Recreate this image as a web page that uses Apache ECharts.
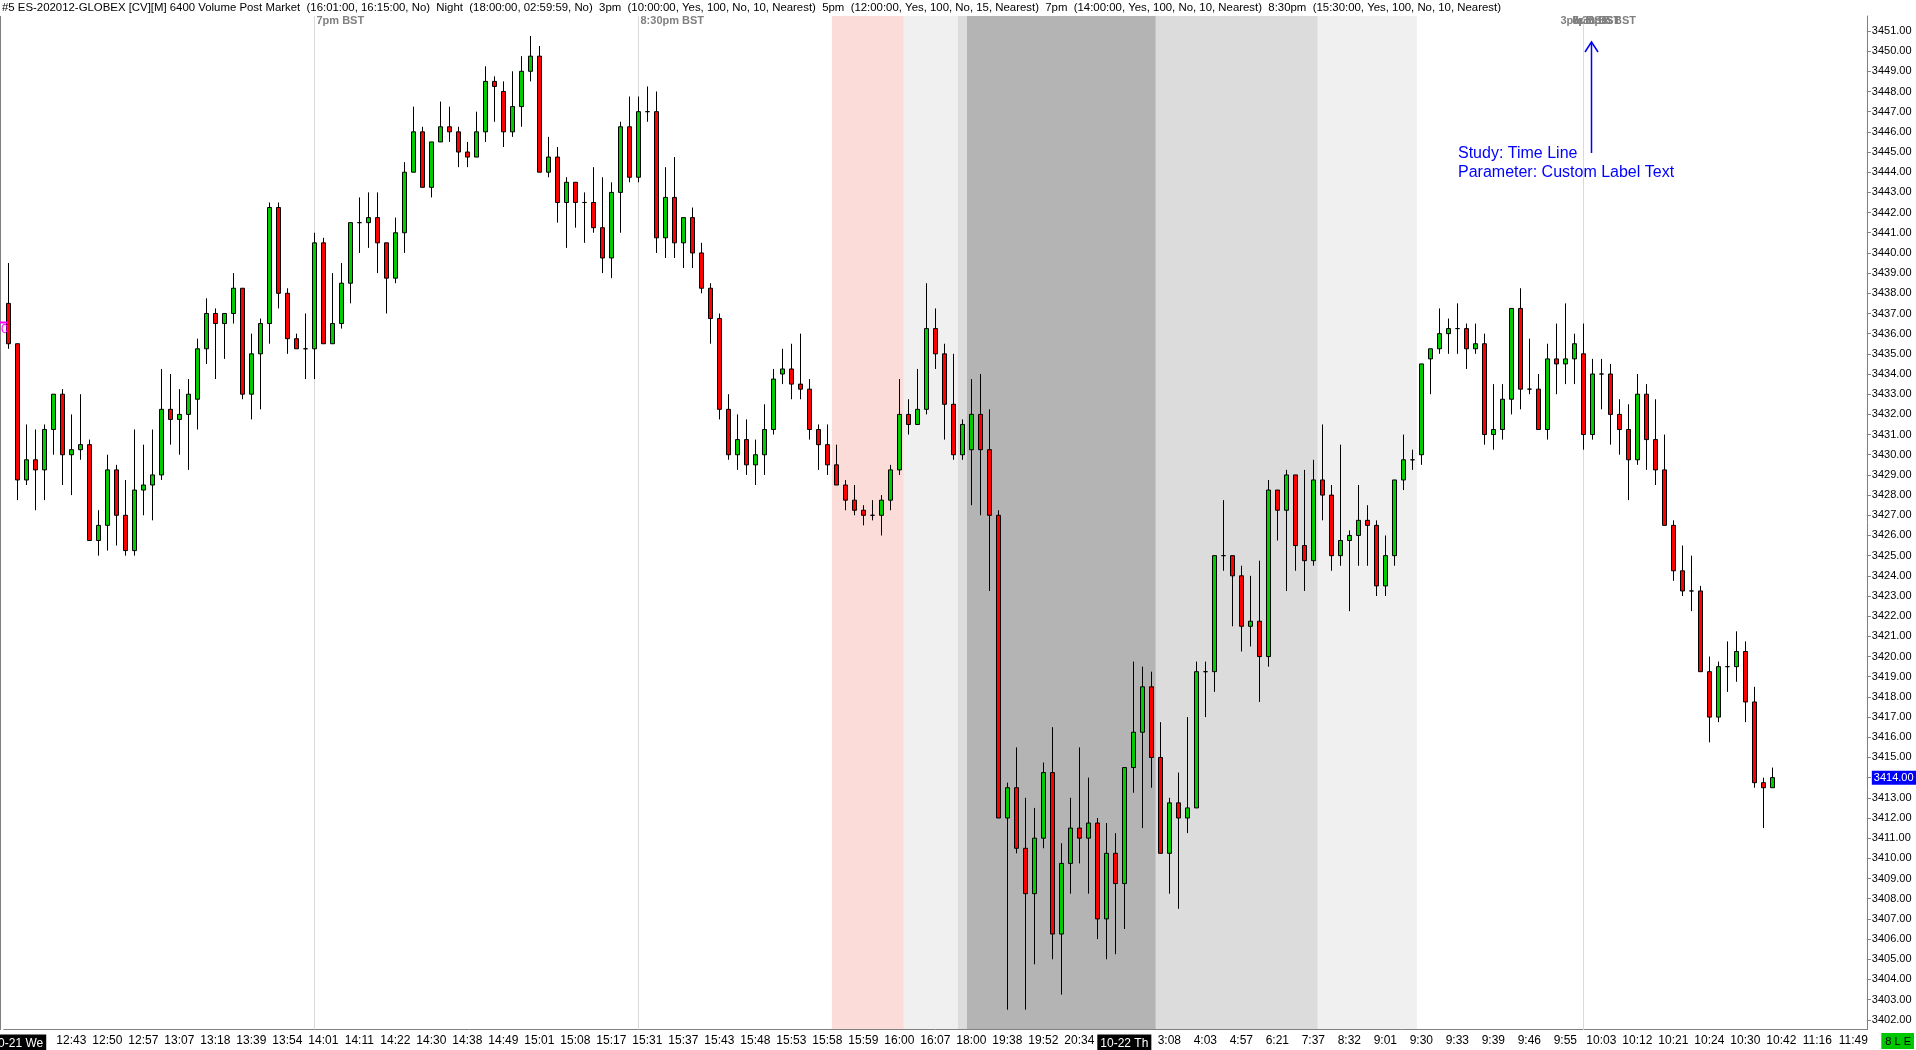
<!DOCTYPE html>
<html><head><meta charset="utf-8">
<script src="https://cdn.jsdelivr.net/npm/echarts@6/dist/echarts.min.js"></script>
<style>html,body{margin:0;padding:0;background:#fff;}#c{width:1916px;height:1050px;}</style>
</head><body><div id="c"></div>
<script>
// ---------- DATA ----------
const openP = [
3437.5,3435.5,3428.75,3429.75,3429.25,3431.25,3433,3430,3430.25,3430.5,
3425.75,3426.5,3429.25,3427,3425.25,3428.25,3428.5,3429,3432.25,3431.75,
3432,3432.75,3435.25,3437,3436.5,3437,3438.25,3433,3435,3436.5,
3442.25,3438,3435.75,3435.25,3435.25,3440.5,3435.5,3436.5,3438.5,3441.5,
3441.5,3441.75,3440.5,3438.75,3441,3444,3446,3443.25,3445.5,3446.25,
3446,3445,3444.75,3446,3448.5,3448,3446,3447.25,3449,3449.75,
3444,3444.75,3442.5,3443.5,3442.5,3442.5,3441.25,3439.75,3443,3446.25,
3443.75,3447,3447,3440.75,3442.75,3440.5,3441.75,3440,3438.25,3436.75,
3432.25,3430,3430.75,3429.5,3430,3431.25,3434,3434.25,3433.5,3433.25,
3431.25,3430.5,3429.5,3428.5,3427.75,3427.25,3427,3427,3427.75,3429.25,
3432,3431.5,3432.25,3436.25,3435,3432.5,3430,3430.25,3432,3430.25,
3427,3412,3413.5,3410.5,3408.25,3411,3414.25,3406.25,3409.75,3411.5,
3411,3411.75,3407,3410.25,3408.75,3414.5,3416.25,3418.5,3415,3410.25,
3412.75,3412,3412.5,3419.25,3419.25,3425,3425,3424,3421.5,3421.75,
3420,3428.25,3427.25,3429,3425.5,3424.75,3428.75,3428,3425,3425.75,
3426,3426.75,3426.5,3423.5,3425,3428.75,3429.75,3430,3434.75,3435.25,
3436,3436.25,3436.25,3435.25,3435.5,3431,3431.25,3432.75,3437.25,3433.25,
3433.25,3431.25,3434.75,3434.5,3434.75,3435,3431,3434,3434,3432,
3431.25,3429.75,3433,3430.75,3429.25,3426.5,3424.25,3423.25,3423.25,3419.25,
3417,3419.5,3419.5,3420.25,3417.75,3413.75,3413.5];
const highP = [
3439.5,3435.5,3431.5,3431.25,3431.5,3433,3433.25,3432,3433,3430.75,
3427.25,3430,3429.5,3428.75,3431.25,3430.5,3431.25,3434.25,3434,3433.25,
3433.75,3435.75,3437.75,3437.25,3437,3439,3438.25,3436,3436.75,3442.5,
3442.5,3438.25,3436,3437,3441,3440.75,3439,3439.5,3441.5,3442.75,
3443,3443,3440.5,3441.75,3444.5,3447.25,3446.25,3445.5,3447.5,3447.25,
3446.25,3445.5,3447,3449.25,3448.75,3448.5,3449,3449.75,3450.75,3450.25,
3445.75,3445.25,3443.75,3443.5,3443,3444.25,3443.75,3443.5,3446.5,3447.75,
3447.75,3448.25,3448,3444.25,3444.75,3441.75,3442.25,3440.5,3438.5,3437,
3433,3432,3431.75,3430.75,3432.5,3434.25,3435.25,3435.5,3436,3433.75,
3431.5,3431.5,3430.5,3428.75,3428.5,3427.5,3427.75,3428,3429.5,3433.75,
3432.75,3434.25,3438.5,3437.25,3435.5,3435,3431.75,3433.75,3434,3432.25,
3427.25,3413.75,3415.5,3413,3412.5,3414.75,3416.5,3410.75,3413,3415.5,
3414,3412,3411.75,3411.25,3414.5,3419.75,3419.5,3419.25,3416.75,3413,
3414.25,3417,3419.75,3419.75,3425,3427.75,3425,3424.5,3424,3424.75,
3428.75,3428.25,3429.25,3429,3429.25,3429.75,3431.5,3428.5,3430.5,3426.25,
3428.5,3427.5,3426.75,3426,3428.75,3431,3430.25,3434.5,3435.25,3437.25,
3436.75,3437.5,3436.5,3436.5,3436,3433.5,3433.5,3437.25,3438.25,3435.75,
3434,3435.5,3436.5,3437.5,3436,3436.5,3434.75,3434.75,3434.5,3432.75,
3432.5,3434,3433.5,3432.75,3431,3426.75,3425.5,3425,3423.5,3420,
3419.75,3420.75,3421.25,3420.75,3418.5,3414,3414.5];
const lowP = [
3435.25,3427.75,3428.5,3427.25,3427.75,3430,3428.5,3428,3429.75,3425.75,
3425,3425.25,3425.5,3425,3425,3427,3426.75,3428.75,3430.5,3430,
3429.25,3431.25,3434.5,3433.75,3434.75,3436.5,3432.75,3431.75,3432.25,3435.5,
3437.25,3435,3435.25,3433.75,3433.75,3435.5,3435.5,3436.25,3437.5,3440,
3440.25,3439,3437,3438.5,3440,3444,3443.25,3442.75,3445.5,3445.5,
3444.25,3444.25,3444.75,3445.5,3446.5,3445.25,3445.75,3446.25,3448.5,3444,
3443.75,3441.5,3440.25,3441.25,3440.5,3441,3439,3438.75,3441,3443.5,
3443.5,3446.5,3440,3439.75,3439.75,3439.25,3439.25,3438,3435.5,3431.75,
3429.75,3429.25,3429,3428.5,3429,3431,3433.5,3432.75,3432.75,3430.75,
3429.25,3429,3428.5,3427.25,3427,3426.5,3426.75,3426,3427.25,3429,
3431,3431.5,3432,3434.25,3430.75,3429.75,3429.75,3427.5,3427,3423.25,
3412,3402.5,3410.25,3402.5,3404.75,3410.5,3405,3403.25,3408.25,3409.75,
3408.25,3406,3405,3405.25,3406.5,3413.25,3411.5,3413.5,3410.25,3408.25,
3407.5,3411.25,3412.5,3417,3418.25,3424.25,3421.5,3420.25,3420.5,3417.75,
3419.5,3425.75,3423.25,3424.25,3423.25,3424.5,3426.75,3424.25,3424.5,3422.25,
3424.5,3424.5,3423,3423,3424.5,3428.25,3429.25,3429.5,3433,3435,
3435,3435,3434.25,3435,3430.5,3430.25,3430.75,3432,3432.25,3433,
3431.25,3430.75,3433,3433.5,3433.5,3430.25,3430.75,3432.25,3430.5,3430,
3427.75,3429.5,3429.25,3428.5,3426.5,3423.75,3423,3422.25,3419.25,3415.75,
3416.75,3418.25,3418.75,3416.75,3413.5,3411.5,3413.5];
const closeP = [
3435.5,3428.75,3429.75,3429.25,3431.25,3433,3430,3430.25,3430.5,3425.75,
3426.5,3429.25,3427,3425.25,3428.25,3428.5,3429,3432.25,3431.75,3432,
3433,3435.25,3437,3436.5,3437,3438.25,3433,3435,3436.5,3442.25,
3438,3435.75,3435.25,3435.25,3440.5,3435.5,3436.5,3438.5,3441.5,3441.5,
3441.75,3440.5,3438.75,3441,3444,3446,3443.25,3445.5,3446.25,3446,
3445,3444.75,3446,3448.5,3448.25,3446,3447.25,3449,3449.75,3444,
3444.75,3442.5,3443.5,3442.5,3442.5,3441.25,3439.75,3443,3446.25,3443.75,
3447,3447,3440.75,3442.75,3440.5,3441.75,3440,3438.25,3436.75,3432.25,
3430,3430.75,3429.5,3430,3431.25,3433.75,3434.25,3433.5,3433.25,3431.25,
3430.5,3429.5,3428.5,3427.75,3427.25,3427,3427,3427.75,3429.25,3432,
3431.5,3432.25,3436.25,3435,3432.5,3430,3431.5,3432,3430.25,3427,
3412,3413.5,3410.5,3408.25,3411,3414.25,3406.25,3409.75,3411.5,3411,
3411.75,3407,3410.25,3408.75,3414.5,3416.25,3418.5,3415,3410.25,3412.75,
3412,3412.5,3419.25,3419.25,3425,3425,3424,3421.5,3421.75,3420,
3428.25,3427.25,3429,3425.5,3424.75,3428.75,3428,3425,3425.75,3426,
3426.75,3426.5,3423.5,3425,3428.75,3429.75,3429.75,3434.5,3435.25,3436,
3436.25,3436.25,3435.25,3435.5,3431,3431.25,3432.75,3437.25,3433.25,3433.25,
3431.25,3434.75,3434.5,3434.75,3435.5,3431,3434,3434,3432,3431.25,
3429.75,3433,3430.75,3429.25,3426.5,3424.25,3423.25,3423.25,3419.25,3417,
3419.5,3419.5,3420.25,3417.75,3413.75,3413.5,3414];

// bottom axis tick labels: bar slot and text
const tickBars = [1,7,11,15,19,23,27,31,35,39,43,47,51,55,59,63,67,71,75,79,83,87,91,95,99,103,107,111,115,119,
  124,129,133,137,141,145,149,153,157,161,165,169,173,177,181,185,189,193,197,201,205];
const tickTexts = ['10-21 We','12:43','12:50','12:57','13:07','13:18','13:39','13:54','14:01','14:11','14:22','14:30','14:38','14:49','15:01','15:08','15:17','15:31','15:37','15:43','15:48','15:53','15:58','15:59','16:00','16:07','18:00','19:38','19:52','20:34',
  '10-22 Th','3:08','4:03','4:57','6:21','7:37','8:32','9:01','9:30','9:33','9:39','9:46','9:55','10:03','10:12','10:21','10:24','10:30','10:42','11:16','11:49'];
const dateTicks = ['10-21 We','10-22 Th'];

// right axis price ticks
const priceTicks = [3402,3403,3404,3405,3406,3407,3408,3409,3410,3411,3412,3413,3414,3415,3416,3417,3418,3419,3420,
  3421,3422,3423,3424,3425,3426,3427,3428,3429,3430,3431,3432,3433,3434,3435,3436,3437,3438,3439,3440,
  3441,3442,3443,3444,3445,3446,3447,3448,3449,3450,3451];
const lastPrice = 3414;

// session shading (bar ranges) and time lines
const bandFrom = [92,100,106,107,128,146];
const bandTo   = [99,105,106,127,145,156];
const bandKind = ['pink','light','mid','dark','mid','light'];
const timeLineBars   = [34,70,175,175,175,175];
const timeLineLabels = ['7pm BST','8:30pm BST','3pm BST','5pm BST','7pm BST','8:30pm BST'];

const headerText = '#5 ES-202012-GLOBEX [CV][M] 6400 Volume Post Market  (16:01:00, 16:15:00, No)  Night  (18:00:00, 02:59:59, No)  3pm  (10:00:00, Yes, 100, No, 10, Nearest)  5pm  (12:00:00, Yes, 100, No, 15, Nearest)  7pm  (14:00:00, Yes, 100, No, 10, Nearest)  8:30pm  (15:30:00, Yes, 100, No, 10, Nearest)';

// ---------- STYLE / LAYOUT ----------
const SLOTS = 207;
const NARROW = "'Liberation Sans Narrow','Arial Narrow','Liberation Sans',sans-serif";
const REG = "'Liberation Sans',Arial,sans-serif";
const bandColors = {pink:'#fcdcd8', light:'#f0f0f0', mid:'#dcdcdc', dark:'#b4b4b4'};
const labelShift = [2,2,-23,-11,-11,-11];

const cats = Array.from({length:SLOTS}, (_, i) => 'b' + i);
const tickMap = new Map(tickBars.map((b, i) => [b, tickTexts[i]]));
const candles = openP.map((o, i) => [o, closeP[i], lowP[i], highP[i]]);

const chart = echarts.init(document.getElementById('c'), null, {renderer:'canvas'});
chart.setOption({
  animation: false,
  backgroundColor: '#ffffff',
  title: {
    text: headerText, left: 2, top: 2, padding: 0,
    textStyle: {fontFamily: NARROW, fontSize: 11.4, fontWeight: 'normal', color: '#000'}
  },
  grid: {left: 3.83, top: 16, width: SLOTS * 9, height: 1013.5, containLabel: false, outerBoundsMode: 'none'},
  xAxis: {
    type: 'category', data: cats, boundaryGap: true,
    axisLine: {show: true, lineStyle: {color: '#808080', width: 1}},
    axisTick: {show: false},
    splitLine: {show: false},
    axisLabel: {
      interval: (idx) => tickMap.has(idx),
      formatter: (v, idx) => {
        const t = tickMap.get(idx) || '';
        return dateTicks.includes(t) ? '{d|' + t + '}' : t;
      },
      margin: 5, fontFamily: NARROW, fontSize: 12, color: '#000',
      rich: {d: {backgroundColor: '#000', color: '#fff', fontFamily: NARROW, fontSize: 12, padding: [3, 3, 2, 3]}}
    }
  },
  yAxis: {
    type: 'value', position: 'right', min: 3401.52, max: 3451.74, scale: true,
    axisLine: {show: true, lineStyle: {color: '#808080', width: 1}},
    axisTick: {show: true, length: 4, customValues: priceTicks, lineStyle: {color: '#808080'}},
    splitLine: {show: false},
    axisLabel: {
      customValues: priceTicks, margin: 5,
      fontFamily: REG, fontSize: 11, color: '#000',
      formatter: (v) => v === lastPrice ? '{cur|' + v.toFixed(2) + '}' : v.toFixed(2),
      rich: {cur: {backgroundColor: '#0000ff', color: '#fff', fontFamily: REG, fontSize: 11, padding: [2, 3, 1, 2]}}
    }
  },
  series: [
    {
      type: 'custom', name: 'sessions', z: 0, silent: true,
      data: bandFrom.map((f, i) => [f, bandTo[i], i]),
      encode: {x: 0},
      renderItem: (params, api) => {
        const i = api.value(2);
        const cs = params.coordSys;
        const w = api.size([1, 0])[0];
        const s = api.coord([api.value(0), 3420])[0] - w / 2;
        const e = api.coord([api.value(1), 3420])[0] + w / 2;
        return {type: 'rect', shape: {x: s, y: cs.y, width: e - s, height: cs.height},
                style: {fill: bandColors[bandKind[i]]}};
      }
    },
    {
      type: 'custom', name: 'timelines', z: 1, silent: true,
      data: timeLineBars.map((b, i) => [b, i]),
      encode: {x: 0},
      renderItem: (params, api) => {
        const i = api.value(1);
        const cs = params.coordSys;
        const x = Math.round(api.coord([api.value(0), 3420])[0]) + 0.5;
        return {type: 'group', children: [
          {type: 'line', shape: {x1: x, y1: cs.y, x2: x, y2: cs.y + cs.height},
           style: {stroke: '#d9d9d9', lineWidth: 1}},
          {type: 'text', x: x + labelShift[i], y: cs.y + 5,
           style: {text: timeLineLabels[i], fill: '#808080', font: 'bold 11px ' + REG,
                   textVerticalAlign: 'middle', verticalAlign: 'middle'}}
        ]};
      }
    },
    {
      type: 'candlestick', name: 'ES', z: 2,
      data: candles, barWidth: 4,
      itemStyle: {color: '#00cc00', color0: '#ff0000', borderColor: '#000000', borderColor0: '#000000',
                  borderColorDoji: '#000000', borderWidth: 1}
    }
  ],
  graphic: [
    {type: 'line', shape: {x1: 0.5, y1: 16, x2: 0.5, y2: 1030}, style: {stroke: '#808080', lineWidth: 1}, z: 10},
    {type: 'line', shape: {x1: 0, y1: 322.5, x2: 8, y2: 322.5}, style: {stroke: '#ff00ff', lineWidth: 2}, z: 10},
    {type: 'text', x: 1, y: 323, style: {text: '0', fill: '#ff00ff', font: '13px ' + REG}, z: 10},
    {type: 'line', shape: {x1: 1591.5, y1: 153, x2: 1591.5, y2: 42}, style: {stroke: '#0000ff', lineWidth: 1.5}, z: 10},
    {type: 'polyline', shape: {points: [[1585, 52], [1591.5, 42], [1598, 52]]}, style: {stroke: '#0000ff', lineWidth: 1.5, fill: null}, z: 10},
    {type: 'text', x: 1458, y: 154, style: {text: 'Study: Time Line', fill: '#0000ff', font: '16px ' + REG, verticalAlign: 'middle'}, z: 10},
    {type: 'text', x: 1458, y: 173, style: {text: 'Parameter: Custom Label Text', fill: '#0000ff', font: '16px ' + REG, verticalAlign: 'middle'}, z: 10},
    {type: 'text', right: 2, bottom: 1, style: {text: '8 L E', fill: '#000', font: '11px ' + NARROW, backgroundColor: '#00c800', padding: [3, 3, 2, 4]}, z: 10}
  ]
});
</script></body></html>
